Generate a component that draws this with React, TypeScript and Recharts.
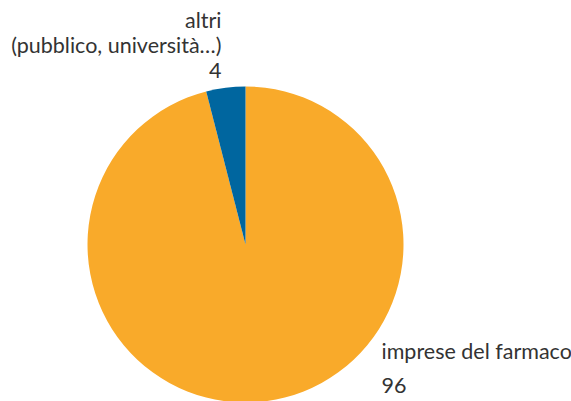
import React from "react"
import { PieChart, Pie, Cell } from "recharts"

const categories = ["imprese del farmaco", "altri"]
const subLabels = ["", "(pubblico, università…)"]
const values = [96, 4]
const colors = ["#F9AA2A", "#00669F"]

const data = categories.map((name, i) => ({ name, value: values[i] }))

const TEXT = "#333333"
const FONT = "Lato, 'DejaVu Sans', sans-serif"

const renderLabel = (props: any) => {
  const { cx, cy, index } = props
  if (index === 0) {
    const x = cx + 136
    return (
      <text x={x} y={cy + 114} fill={TEXT} fontFamily={FONT} fontSize={21.5} textAnchor="start">
        <tspan x={x}>{categories[0]}</tspan>
        <tspan x={x} dy={34}>{values[0]}</tspan>
      </text>
    )
  }
  const x = cx - 24
  return (
    <text x={x} y={cy - 217} fill={TEXT} fontFamily={FONT} fontSize={21.5} textAnchor="end">
      <tspan x={x}>{categories[1]}</tspan>
      <tspan x={x} dy={25}>{subLabels[1]}</tspan>
      <tspan x={x} dy={25}>{values[1]}</tspan>
    </text>
  )
}

export default function App() {
  return (
    <div style={{ position: "fixed", left: 0, top: 0, width: 571, height: 401, background: "#fff" }}>
      <PieChart width={571} height={401} margin={{ top: 0, right: 0, bottom: 0, left: 0 }}>
        <Pie
          data={data}
          dataKey="value"
          nameKey="name"
          cx={245.5}
          cy={244.5}
          outerRadius={158}
          startAngle={90}
          endAngle={-270}
          stroke="none"
          label={renderLabel}
          labelLine={false}
          isAnimationActive={false}
        >
          {data.map((d, i) => (
            <Cell key={d.name} fill={colors[i]} />
          ))}
        </Pie>
      </PieChart>
    </div>
  )
}
